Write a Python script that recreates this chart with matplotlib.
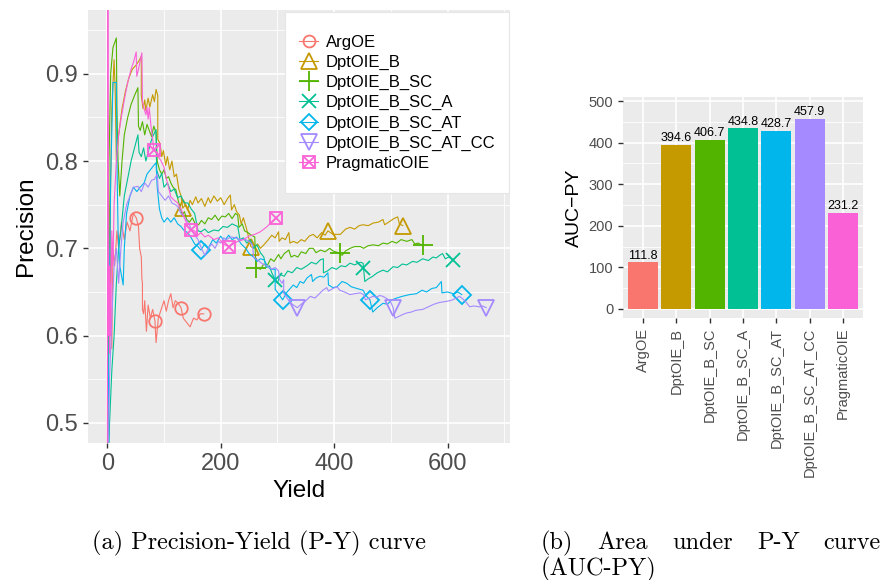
import numpy as np
import matplotlib
matplotlib.use("Agg")
import matplotlib.pyplot as plt
from matplotlib.lines import Line2D
from matplotlib.patches import Rectangle

plt.rcParams['font.family'] = ['Liberation Sans', 'DejaVu Sans']

# ---- data ----
methods = ["ArgOE", "DptOIE_B", "DptOIE_B_SC", "DptOIE_B_SC_A",
           "DptOIE_B_SC_AT", "DptOIE_B_SC_AT_CC", "PragmaticOIE"]
auc = [111.8, 394.6, 406.7, 434.8, 428.7, 457.9, 231.2]
colors = ["#F8766D", "#C49A00", "#53B400", "#00C094", "#00B6EB", "#A58AFF", "#FB61D7"]

argoe = [(0,0.40),(1,0.47),(2,0.70),(3,0.62),(5,0.75),(6,0.62),(8,0.585),(10,0.70),(13,0.68),
         (17,0.72),(20,0.70),(25,0.73),(30,0.71),(35,0.73),(40,0.72),(46,0.74),(51,0.735),(55,0.725),
         (57,0.70),(60,0.69),(61,0.665),(62,0.66),(62,0.63),(64,0.625),(66,0.64),(69,0.605),(72,0.635),
         (76,0.62),(80,0.63),(84,0.617),(86,0.592),(90,0.62),(95,0.63),(100,0.64),(104,0.628),(108,0.64),
         (112,0.648),(116,0.632),(120,0.64),(125,0.637),(130,0.632),(134,0.62),(140,0.615),(146,0.61),
         (152,0.62),(158,0.618),(164,0.625),(170,0.625)]
dpt_b = [(0,0.40),(2,0.78),(4,0.70),(8,0.86),(12,0.916),(14,0.88),(16,0.80),(20,0.83),(26,0.86),
         (32,0.88),(38,0.895),(44,0.905),(51,0.91),(56,0.915),(60,0.92),(60,0.875),(63,0.86),(66,0.87),
         (68,0.858),(72,0.872),(75,0.862),(80,0.876),(83,0.868),(86,0.882),(89,0.875),(89,0.825),
         (93,0.82),(96,0.805),(99,0.812),(103,0.795),(106,0.805),(110,0.79),(114,0.80),(118,0.782),
         (122,0.785),(126,0.768),(130,0.76),(133,0.746),(138,0.75),(142,0.745),(146,0.755),(150,0.75),
         (156,0.759),(160,0.752),(166,0.757),(172,0.748),(178,0.758),(182,0.752),(188,0.76),(194,0.754),
         (200,0.758),(206,0.75),(212,0.757),(217,0.761),(219,0.744),(224,0.75),(228,0.742),(233,0.738),
         (236,0.728),(240,0.735),(244,0.726),(248,0.716),(253,0.702),(258,0.70),(265,0.705),(270,0.70),
         (276,0.704),(284,0.71),(290,0.715),(296,0.712),(302,0.719),(303,0.708),(308,0.712),(314,0.71),
         (320,0.718),(322,0.706),(328,0.708),(335,0.706),(342,0.71),(348,0.708),(356,0.714),(363,0.716),
         (370,0.712),(378,0.718),(384,0.715),(389,0.72),(398,0.716),(411,0.716),(420,0.722),(428,0.724),
         (436,0.722),(444,0.726),(451,0.727),(460,0.726),(469,0.729),(478,0.73),(486,0.733),(489,0.727),
         (496,0.73),(505,0.734),(512,0.736),(515,0.728),(521,0.726)]
dpt_sc = [(0,0.40),(3,0.80),(6,0.90),(10,0.93),(16,0.941),(17,0.86),(19,0.80),(22,0.76),(26,0.80),
          (30,0.83),(36,0.85),(42,0.865),(48,0.875),(54,0.884),(55,0.84),(58,0.835),(62,0.845),(66,0.83),
          (70,0.842),(74,0.835),(78,0.828),(82,0.84),(86,0.832),(88,0.80),(92,0.79),(96,0.785),(100,0.79),
          (104,0.78),(108,0.782),(112,0.775),(116,0.77),(121,0.767),(125,0.755),(128,0.748),(132,0.738),
          (136,0.742),(140,0.733),(145,0.73),(150,0.735),(155,0.728),(161,0.727),(166,0.732),(172,0.728),
          (178,0.735),(184,0.733),(190,0.738),(196,0.732),(202,0.737),(208,0.736),(214,0.74),(220,0.734),
          (226,0.74),(230,0.738),(232,0.724),(238,0.728),(242,0.72),(248,0.718),(254,0.715),(260,0.713),
          (262,0.678),(270,0.676),(276,0.682),(282,0.68),(288,0.688),(294,0.685),(302,0.693),(306,0.688),
          (312,0.694),(320,0.698),(324,0.69),(330,0.692),(336,0.69),(342,0.696),(350,0.694),(356,0.70),
          (363,0.70),(368,0.695),(376,0.698),(384,0.696),(392,0.70),(398,0.697),(407,0.695),(414,0.692),
          (420,0.697),(428,0.70),(436,0.702),(446,0.702),(452,0.70),(460,0.703),(469,0.704),(478,0.703),
          (486,0.706),(494,0.705),(502,0.708),(510,0.706),(518,0.71),(528,0.708),(537,0.71),(542,0.705),
          (548,0.706),(554,0.704)]
dpt_sc_a = [(0,0.40),(4,0.50),(8,0.56),(12,0.60),(16,0.66),(20,0.70),(24,0.72),(30,0.76),(36,0.78),
            (42,0.80),(48,0.815),(54,0.83),(56,0.81),(60,0.805),(64,0.815),(68,0.80),(72,0.81),(76,0.82),
            (80,0.828),(86,0.836),(87,0.79),(92,0.78),(96,0.786),(100,0.77),(106,0.775),(112,0.765),
            (118,0.768),(124,0.758),(130,0.76),(136,0.752),(142,0.752),(148,0.745),(154,0.74),(160,0.72),
            (165,0.719),(172,0.722),(178,0.718),(188,0.721),(196,0.72),(204,0.725),(212,0.724),(220,0.728),
            (230,0.725),(234,0.71),(240,0.712),(246,0.706),(252,0.71),(258,0.70),(264,0.704),(270,0.695),
            (276,0.69),(280,0.678),(286,0.68),(290,0.672),(296,0.664),(300,0.66),(305,0.67),(312,0.668),
            (318,0.674),(326,0.672),(334,0.678),(342,0.676),(352,0.68),(360,0.684),(368,0.682),(376,0.687),
            (381,0.688),(381,0.672),(388,0.674),(396,0.678),(404,0.676),(412,0.68),(420,0.679),(428,0.683),
            (436,0.681),(446,0.684),(451,0.683),(454,0.662),(460,0.665),(468,0.668),(476,0.672),(486,0.675),
            (494,0.673),(504,0.679),(512,0.678),(520,0.682),(528,0.681),(538,0.685),(546,0.684),(556,0.688),
            (566,0.686),(574,0.69),(580,0.689),(586,0.692),(591,0.694),(596,0.688),(602,0.69),(609,0.687)]
dpt_sc_at = [(0,0.40),(3,0.60),(6,0.78),(10,0.89),(16,0.89),(17,0.80),(19,0.72),(22,0.68),(28,0.658),
             (30,0.70),(34,0.74),(40,0.76),(46,0.77),(52,0.765),(58,0.77),(65,0.775),(70,0.785),(76,0.79),
             (82,0.795),(86,0.798),(88,0.77),(92,0.745),(96,0.735),(100,0.73),(106,0.735),(112,0.73),
             (118,0.735),(124,0.728),(130,0.725),(136,0.72),(142,0.718),(148,0.712),(154,0.705),(160,0.702),
             (165,0.698),(172,0.705),(178,0.70),(186,0.71),(192,0.706),(200,0.714),(206,0.708),(214,0.715),
             (220,0.71),(228,0.713),(236,0.705),(244,0.70),(250,0.694),(258,0.69),(264,0.685),(270,0.688),
             (276,0.687),(282,0.68),(288,0.676),(296,0.676),(296,0.653),(302,0.648),(309,0.641),(317,0.65),
             (328,0.658),(334,0.655),(340,0.662),(346,0.66),(352,0.666),(360,0.67),(362,0.662),(368,0.666),
             (375,0.668),(382,0.667),(389,0.672),(390,0.658),(398,0.655),(405,0.656),(414,0.662),(422,0.66),
             (430,0.656),(440,0.654),(451,0.652),(456,0.646),(463,0.641),(468,0.627),(476,0.632),(486,0.637),
             (494,0.636),(502,0.641),(510,0.643),(520,0.645),(533,0.647),(545,0.648),(555,0.652),(563,0.65),
             (572,0.654),(580,0.655),(589,0.662),(590,0.649),(600,0.65),(610,0.648),(618,0.65),(625,0.647)]
dpt_sc_at_cc = [(0,0.40),(4,0.55),(8,0.62),(12,0.68),(16,0.70),(20,0.66),(24,0.70),(28,0.73),(34,0.75),
                (40,0.76),(46,0.77),(54,0.771),(60,0.765),(66,0.775),(72,0.77),(78,0.778),(83,0.779),
                (88,0.785),(90,0.765),(96,0.76),(102,0.755),(108,0.76),(114,0.752),(120,0.75),(124,0.748),
                (130,0.74),(136,0.735),(142,0.73),(148,0.722),(154,0.715),(160,0.71),(166,0.70),(172,0.692),
                (178,0.70),(184,0.705),(190,0.70),(196,0.708),(200,0.706),(205,0.712),(210,0.71),(218,0.713),
                (226,0.712),(235,0.71),(244,0.71),(250,0.708),(256,0.704),(258,0.69),(266,0.686),(274,0.682),
                (282,0.68),(290,0.676),(296,0.678),(302,0.674),(304,0.664),(308,0.66),(311,0.664),(311,0.649),
                (318,0.642),(326,0.636),(335,0.632),(342,0.636),(350,0.64),(358,0.645),(366,0.643),(374,0.648),
                (380,0.652),(387,0.655),(390,0.651),(398,0.654),(405,0.656),(410,0.652),(418,0.65),(428,0.647),
                (436,0.648),(446,0.649),(452,0.647),(455,0.641),(462,0.643),(468,0.645),(475,0.644),(480,0.646),
                (486,0.645),(494,0.642),(500,0.638),(504,0.632),(507,0.62),(514,0.622),(520,0.624),(528,0.626),
                (536,0.627),(544,0.629),(556,0.63),(566,0.633),(576,0.636),(586,0.638),(596,0.639),(604,0.64),
                (609,0.641),(615,0.643),(621,0.645),(627,0.642),(633,0.638),(639,0.633),(646,0.634),(656,0.633),
                (662,0.634),(668,0.632)]
pragmatic = [(0,0.40),(1,1.0),(2,0.60),(3,0.68),(4,0.58),(5,0.66),(6,0.60),(8,0.72),(10,0.68),(12,0.75),
             (16,0.80),(20,0.83),(24,0.847),(30,0.87),(36,0.89),(42,0.905),(47,0.915),(51,0.925),(52,0.897),
             (55,0.905),(58,0.915),(61,0.924),(62,0.868),(65,0.86),(68,0.853),(70,0.862),(72,0.848),(74,0.861),
             (77,0.84),(80,0.825),(82,0.813),(86,0.81),(90,0.805),(95,0.80),(100,0.793),(104,0.78),(108,0.77),
             (112,0.759),(118,0.755),(124,0.752),(130,0.745),(136,0.735),(142,0.725),(147,0.721),(154,0.72),
             (160,0.715),(165,0.718),(172,0.713),(178,0.715),(188,0.71),(196,0.712),(204,0.705),(214,0.702),
             (222,0.705),(230,0.708),(240,0.71),(250,0.714),(260,0.716),(270,0.719),(280,0.724),(290,0.73),
             (298,0.735)]
curves = [argoe, dpt_b, dpt_sc, dpt_sc_a, dpt_sc_at, dpt_sc_at_cc, pragmatic]

# marker points (yield, precision)
marks = [
    [(51,0.735),(84,0.617),(130,0.632),(170,0.625)],
    [(133,0.746),(253,0.702),(389,0.72),(521,0.726)],
    [(263,0.678),(410,0.695),(556,0.704)],
    [(296,0.664),(451,0.678),(609,0.687)],
    [(165,0.698),(309,0.641),(463,0.641),(625,0.647)],
    [(335,0.632),(504,0.632),(668,0.632)],
    [(82,0.813),(147,0.721),(214,0.702),(298,0.735)],
]
shapes = [dict(marker='o', ms=9), dict(marker='^', ms=12), dict(marker='+', ms=15),
          dict(marker='x', ms=10), dict(marker='D', ms=9), dict(marker='v', ms=12),
          dict(marker='s', ms=9)]

W, H = 884, 580
fig = plt.figure(figsize=(W/100, H/100), dpi=100)

def fx(px):
    return px / W
def fy(py):
    return 1 - py / H

def style(ax, tick_size):
    ax.set_facecolor('#EBEBEB')
    for s in ax.spines.values():
        s.set_visible(False)
    ax.grid(True, which='major', color='white', lw=1.2)
    ax.grid(True, which='minor', color='white', lw=0.6)
    ax.set_axisbelow(True)
    ax.tick_params(which='major', length=3.6, width=1.0, color='#333333',
                   labelcolor='#4D4D4D', labelsize=tick_size)
    ax.tick_params(which='minor', length=0)

# ---- (a) precision-yield ----
ax1 = fig.add_axes([fx(88), fy(443), fx(510 - 88), (443 - 10) / H])
style(ax1, 17)
for c, pts, mk, sh in zip(colors, curves, marks, shapes):
    x = [p[0] for p in pts]
    y = [p[1] for p in pts]
    ax1.plot(x, y, color=c, lw=0.8)
    ax1.plot([p[0] for p in mk], [p[1] for p in mk], ls='none', color=c,
             mfc='none', mew=1.3, **sh)
mk = marks[6]
ax1.plot([p[0] for p in mk], [p[1] for p in mk], ls='none', marker='x', ms=7,
         color=colors[6], mew=1.3)
ax1.set_xlim(-34, 710)
ax1.set_ylim(0.477, 0.973)
ax1.set_xticks([0, 200, 400, 600])
ax1.set_xticks([100, 300, 500, 700], minor=True)
ax1.set_yticks([0.5, 0.6, 0.7, 0.8, 0.9])
ax1.set_yticklabels(["0.5", "0.6", "0.7", "0.8", "0.9"])
ax1.set_yticks([0.55, 0.65, 0.75, 0.85, 0.95], minor=True)
ax1.set_xlabel("Yield", fontsize=17.5, labelpad=4)
ax1.set_ylabel("Precision", fontsize=17.5, labelpad=6)

# legend box
fig.add_artist(Rectangle((fx(285), fy(193)), fx(509 - 285), (193 - 12) / H,
                         transform=fig.transFigure, facecolor='white',
                         edgecolor='#E6E6E6', lw=0.8, zorder=1))
handles = []
for i, (c, sh) in enumerate(zip(colors, shapes)):
    h = Line2D([], [], color=c, lw=0.8, mfc='none', mew=1.3,
               **dict(sh, ms=sh['ms'] * 0.95))
    if i == 6:
        h = (h, Line2D([], [], ls='none', marker='x', ms=7, color=c, mew=1.3))
    handles.append(h)
fig.legend(handles, methods, loc='upper left', bbox_to_anchor=(fx(299), fy(35)),
           frameon=False, fontsize=12, handlelength=1.15, handletextpad=0.45,
           labelspacing=0.3, borderpad=0, borderaxespad=0)

# ---- (b) AUC-PY bars ----
ax2 = fig.add_axes([fx(623), fy(318), fx(863 - 623), (318 - 97) / H])
style(ax2, 10.5)
pos = np.arange(len(methods))
ax2.bar(pos, auc, width=0.9, color=colors, zorder=2)
for p, v in zip(pos, auc):
    ax2.annotate(f"{v:.1f}", (p, v), xytext=(0, 0.5), textcoords='offset points',
                 ha='center', va='bottom', fontsize=9)
ax2.set_xlim(-0.6, 6.6)
ax2.set_ylim(-22, 510)
ax2.set_yticks([0, 100, 200, 300, 400, 500])
ax2.set_yticks([50, 150, 250, 350, 450], minor=True)
ax2.set_xticks(pos)
ax2.set_xticklabels(methods, rotation=90, fontsize=10.5)
ax2.set_ylabel("AUC\u2212PY", fontsize=14, labelpad=4)

# ---- captions (the second one is justified like LaTeX does) ----
cap = dict(family='cmr10', fontsize=17.5, va='center')
fig.text(fx(92), fy(543), "(a) Precision-Yield (P-Y) curve", ha='left', **cap)
words = ["(b)", "Area", "under", "P-Y", "curve"]
left, right = 541, 881
renderer = fig.canvas.get_renderer()
texts = [fig.text(0, fy(543), w, ha='left', **cap) for w in words]
widths = [t.get_window_extent(renderer).width for t in texts]
gap = (right - left - sum(widths)) / (len(words) - 1)
cur = left
for t, w in zip(texts, widths):
    t.set_x(fx(cur))
    cur += w + gap
fig.text(fx(left), fy(569), "(AUC-PY)", ha='left', **cap)

fig.savefig("out.png", dpi=100)
